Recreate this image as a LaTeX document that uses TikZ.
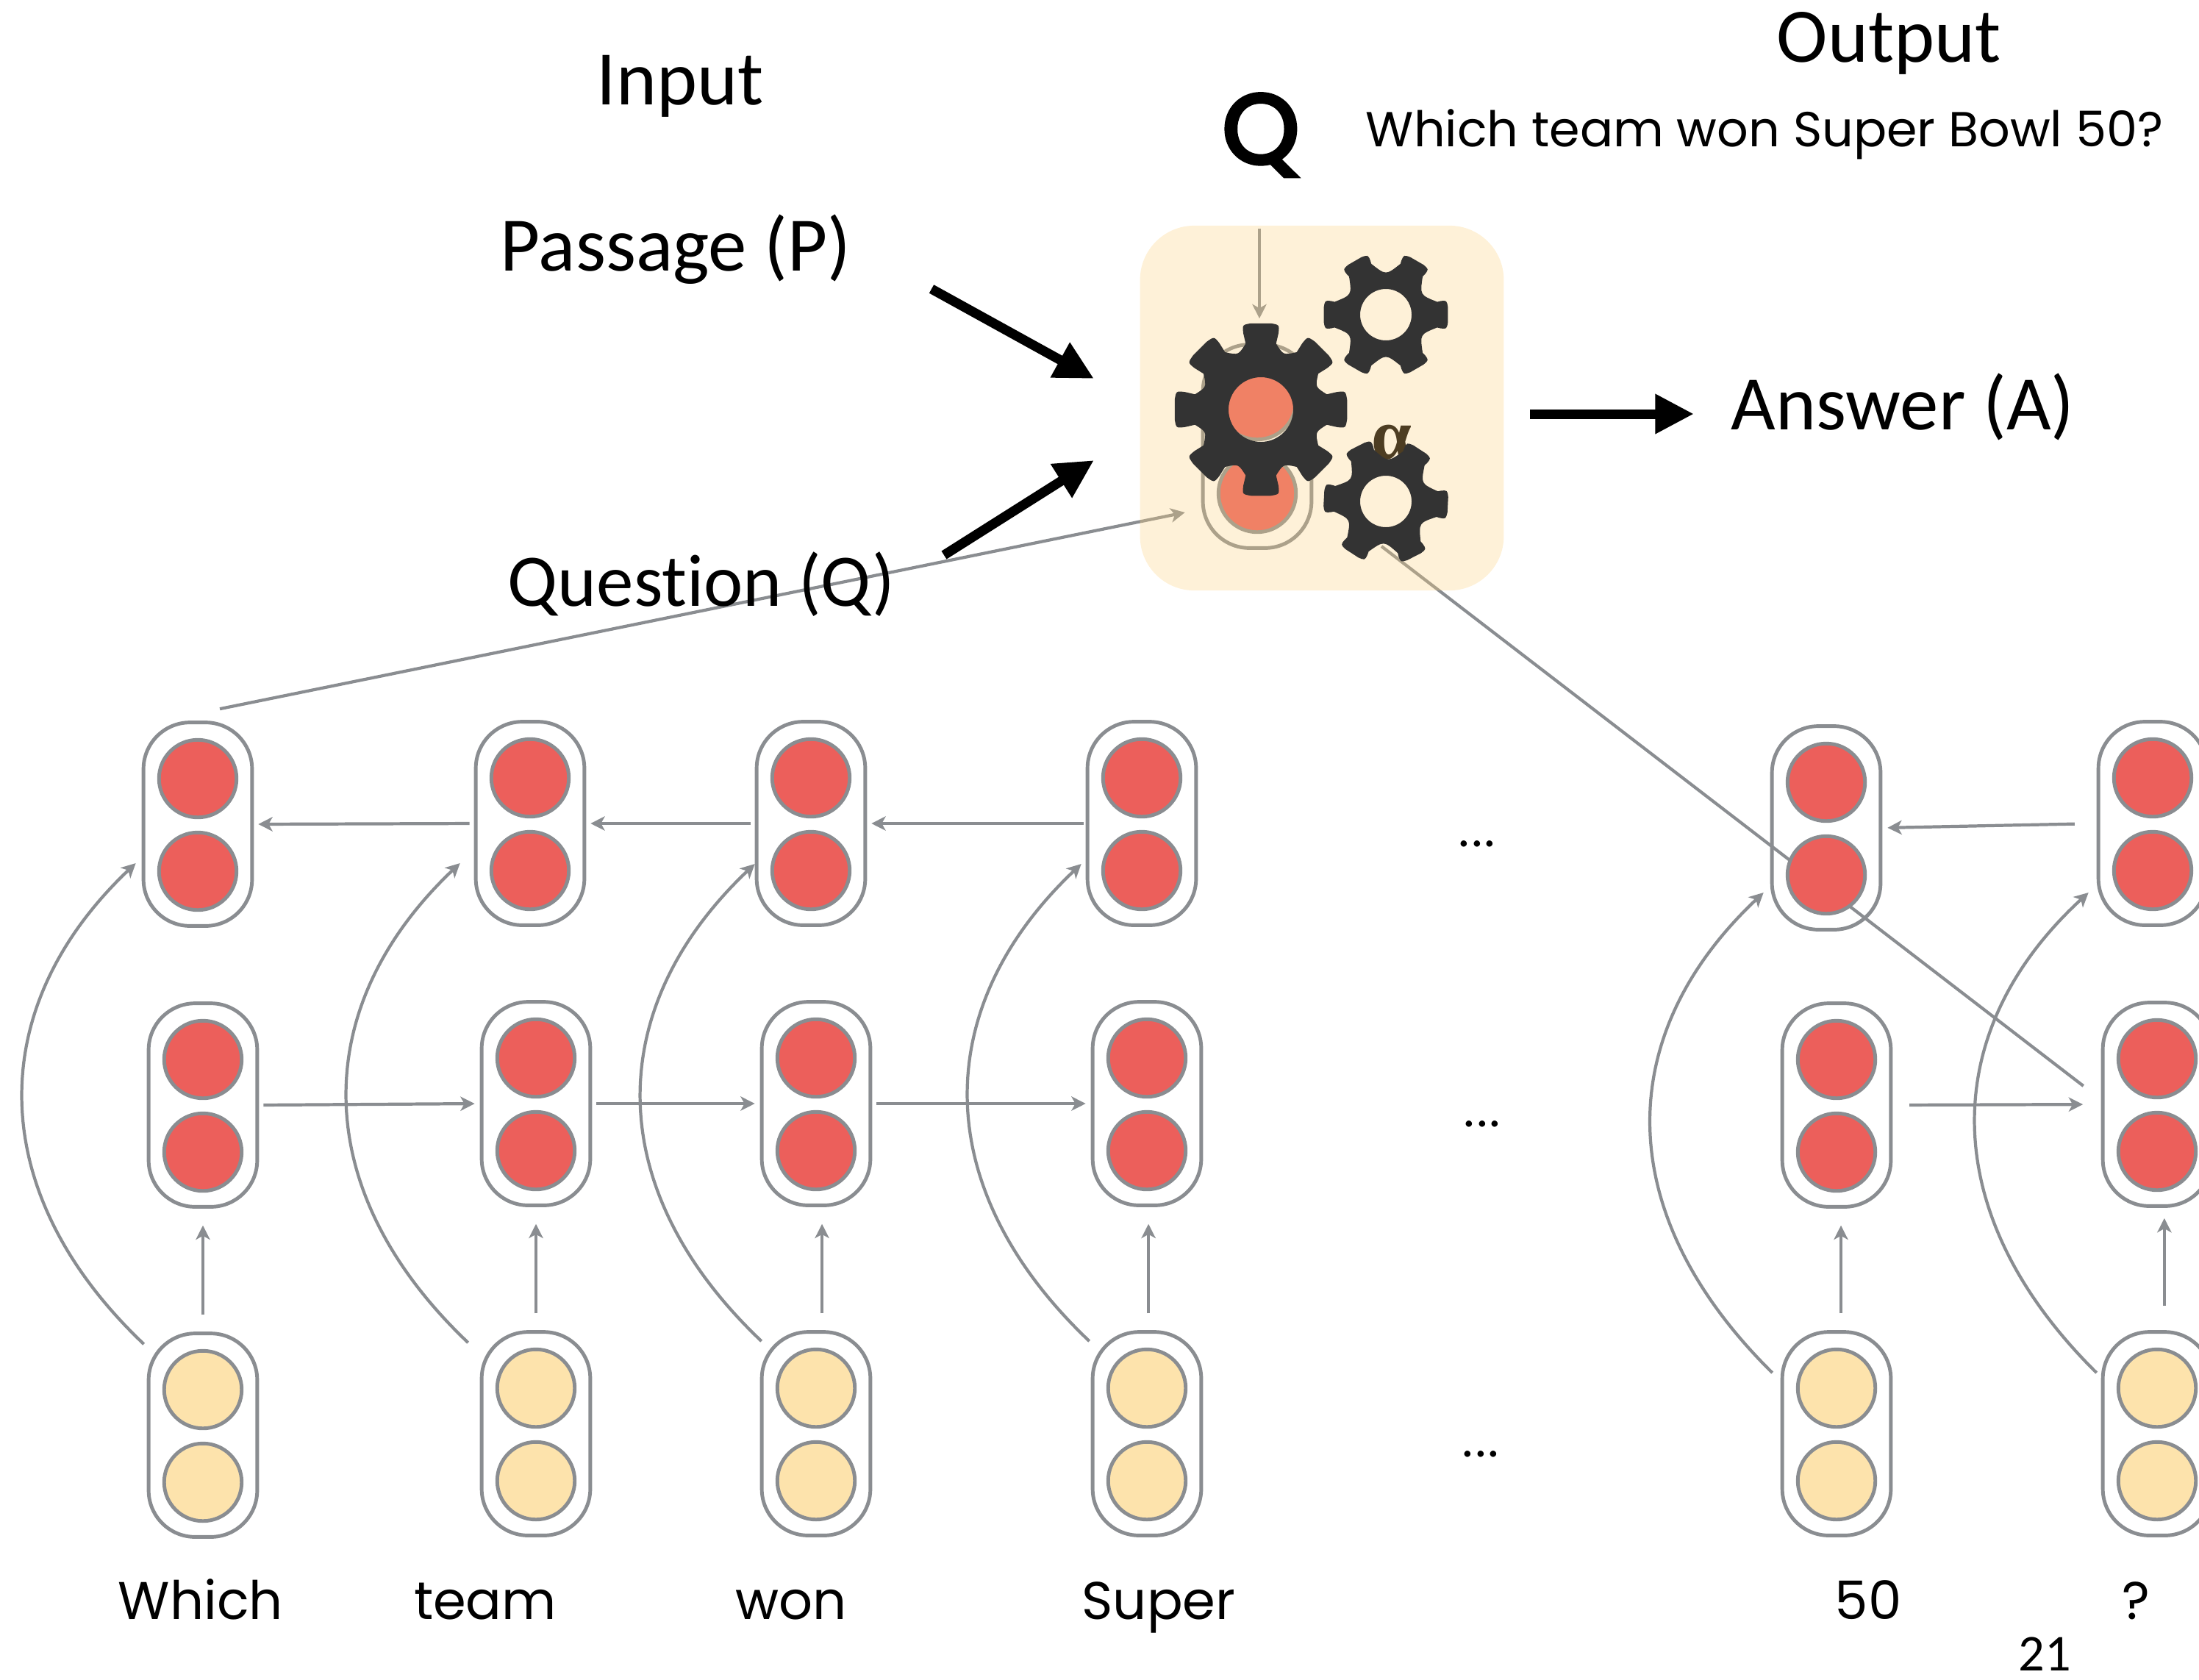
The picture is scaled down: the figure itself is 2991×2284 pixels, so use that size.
\documentclass[tikz,border=0pt]{standalone}
\usepackage{fontspec}
\setmainfont[Ligatures=NoCommon]{Carlito}
\newfontfamily\gothic{Poppins}
\newfontfamily\gothicq[FakeBold=4]{Poppins}
\newfontfamily\alphafont{Liberation Serif}
\usetikzlibrary{arrows.meta}
\definecolor{gry}{HTML}{8A8D91}
\definecolor{redc}{HTML}{EC5F5B}
\definecolor{yelc}{HTML}{FDE3AC}
\definecolor{corec}{RGB}{252,208,125}
\definecolor{gearc}{HTML}{333333}
\definecolor{alphac}{HTML}{4D3D22}
\pgfdeclarelayer{under}
\pgfsetlayers{under,main}
\tikzset{
  capsule/.style={draw=gry,line width=1.4pt,rounded corners=18pt,minimum width=42pt,minimum height=78.7pt,inner sep=0pt},
  disc/.style={circle,draw=gry,line width=1.4pt,minimum size=30pt,inner sep=0pt},
  garrow/.style={draw=gry,line width=1.2pt,-{Stealth[length=5.5pt,width=5.5pt,inset=1.5pt]}},
  gline/.style={draw=gry,line width=1.2pt},
  barrow/.style={draw=black,line width=3.7pt,-{Triangle[length=15pt,width=14.5pt]}},
  bigtxt/.style={font=\fontsize{29.8}{32}\selectfont,anchor=base,inner sep=0pt},
  wordtxt/.style={font=\gothic\fontsize{20.5}{24}\selectfont,anchor=base,inner sep=0pt},
  sentxt/.style={font=\gothic\fontsize{19}{22}\selectfont,anchor=base,inner sep=0pt},
  dotstxt/.style={font=\fontsize{20}{24}\selectfont,anchor=base,inner sep=0pt},
}
\newcommand\cellnode[4]{%
  \node[capsule] (#1) at (#2,#3) {};
  \path (#2,#3) +(0,-62) node[disc,fill=#4] (#1u) {} +(0,64) node[disc,fill=#4] (#1l) {};
}
\newcommand\gearshape[9]{%
  \fill[gearc,even odd rule,shift={(#1,#2)}] ({#3-#5}:#7)
  \foreach \i [evaluate=\i as \A using #3+(\i-1)*360/#4] in {1,...,#4}{
    -- ({\A-#5}:{#6*.9}) .. controls ({\A-#5*.95}:#6) .. ({\A-#5*.5}:#6)
    -- ({\A+#5*.5}:#6) .. controls ({\A+#5*.95}:#6) .. ({\A+#5}:{#6*.9})
    -- ({\A+#5}:#7) .. controls ({\A+180/#4}:#8) .. ({\A+360/#4-#5}:#7)
  } -- cycle (0,0) circle[radius=#9];
}
\newcommand\skipcurve[8]{%
  \draw[garrow] ([shift={(#3,#4)}]#1.north west) .. controls +(-218,-#7) and +(-207,#8) .. ([shift={(#5,#6)}]#2.west);
}
\begin{document}
\begin{tikzpicture}[x=0.01cm,y=-0.01cm]
\useasboundingbox (0,0) rectangle (2991,2284);
% cells
\cellnode{t1}{269}{1121}{redc}
\cellnode{t2}{721}{1120}{redc}
\cellnode{t3}{1103}{1120}{redc}
\cellnode{t4}{1553}{1120}{redc}
\cellnode{t5}{2484}{1126}{redc}
\cellnode{t6}{2928}{1120}{redc}
\cellnode{m1}{276}{1503}{redc}
\cellnode{m2}{729}{1501}{redc}
\cellnode{m3}{1110}{1501}{redc}
\cellnode{m4}{1560}{1501}{redc}
\cellnode{m5}{2498}{1503}{redc}
\cellnode{m6}{2934}{1502}{redc}
\cellnode{b1}{276}{1952}{yelc}
\cellnode{b2}{729}{1950}{yelc}
\cellnode{b3}{1110}{1950}{yelc}
\cellnode{b4}{1560}{1950}{yelc}
\cellnode{b5}{2498}{1950}{yelc}
\cellnode{b6}{2934}{1950}{yelc}
% inner capsule seen through the core box
\cellnode{q}{1710}{607}{redc}
\coordinate (g1) at (1715,557);
\coordinate (g2) at (1885,428);
\coordinate (g3) at (1885,682);
\begin{pgfonlayer}{under}
  \draw[garrow,shorten <=1.7pt,shorten >=1.7pt] (t2.west) -- (t1.east);
  \draw[garrow,shorten <=1.7pt,shorten >=1.7pt] (t3.west) -- (t2.east);
  \draw[garrow,shorten <=0.8pt,shorten >=1.7pt] (t4.west) -- (t3.east);
  \draw[garrow,shorten <=8.5pt,shorten >=2pt] (t6.west) -- (t5.east);
  \draw[garrow,shorten <=1.7pt,shorten >=2pt] (m1.east) -- (m2.west);
  \draw[garrow,shorten <=1.7pt,shorten >=2pt] (m2.east) -- (m3.west);
  \draw[garrow,shorten <=1.7pt,shorten >=2pt] (m3.east) -- (m4.west);
  \draw[garrow,shorten <=6.5pt,shorten >=7pt] (m5.east) -- (m6.west);
  \draw[garrow,shorten <=6.5pt,shorten >=6.5pt] (b1.north) -- (m1.south);
  \draw[garrow,shorten <=6.5pt,shorten >=6.5pt] (b2.north) -- (m2.south);
  \draw[garrow,shorten <=6.5pt,shorten >=6.5pt] ([xshift=2.3pt]b3.north) -- ([xshift=2.3pt]m3.south);
  \draw[garrow,shorten <=6.5pt,shorten >=6.5pt] ([xshift=.6pt]b4.north) -- ([xshift=.6pt]m4.south);
  \draw[garrow,shorten <=6.5pt,shorten >=6.5pt] ([xshift=1.7pt]b5.north) -- ([xshift=1.7pt]m5.south);
  \draw[garrow,shorten <=9.4pt,shorten >=4pt] ([xshift=2.8pt]b6.north) -- ([xshift=2.8pt]m6.south);
  \skipcurve{b1}{t1}{-4}{17}{-8}{53}{207}{196}
  \skipcurve{b2}{t2}{-16}{17}{-19}{54}{207}{196}
  \skipcurve{b3}{t3}{2}{15}{0}{55}{207}{196}
  \skipcurve{b4}{t4}{-2}{15}{-6}{55}{207}{196}
  \skipcurve{b5}{t5}{-11}{58}{-9}{88}{215}{195}
  \skipcurve{b6}{t6}{-6}{58}{-11}{94}{215}{190}
  \draw[garrow] ([shift={(30,-16)}]t1.north) -- ([shift={(-22,90)}]q.west);
  \draw[gline] ([shift={(-6,61)}]g3) -- ([shift={(-24,-25)}]m6.west);
  \draw[garrow] ([shift={(3,-155)}]q.north) -- ([shift={(3,-33)}]q.north);
\end{pgfonlayer}
% core box, translucent over what lies under it
\node[fill=corec,fill opacity=.3,rounded corners=21pt,minimum width=140.7pt,minimum height=141.1pt,inner sep=0pt] (core) at (1798,555) {};
\node[font=\alphafont\bfseries\fontsize{28}{30}\selectfont,text=alphac,inner sep=0pt] (alpha) at (1893,602) {α};
\gearshape{1715}{557}{0}{8}{13}{118}{92}{80}{44}
\gearshape{1885}{428}{0}{6}{14}{85}{72}{53.5}{35}
\gearshape{1885}{682}{3}{6}{14}{85}{72}{53.5}{35}
% text
\node[bigtxt] (input) at (925,142) {Input};
\node[bigtxt] (output) at (2569,84) {Output};
\node[bigtxt] (passage) at (919,368) {Passage (P)};
\node[bigtxt,font=\fontsize{28.7}{32}\selectfont] (question) at (954,824) {Question (Q)};
\node[bigtxt] (answer) at (2588,584) {Answer (A)};
\node[font=\gothicq\fontsize{38}{40}\selectfont,anchor=base,inner sep=0pt] (qmark) at (1715,222) {Q};
\node[sentxt] (sentence) at (2400,199) {Which team won Super Bowl 50?};
\coordinate (pa) at (1267,393);
\coordinate (pb) at (1488,515);
\coordinate (qa) at (1284,755);
\coordinate (qb) at (1488,626);
\coordinate (aa) at (2081,563);
\coordinate (ab) at (2304,563);
\draw[barrow] (pa) -- (pb);
\draw[barrow] (qa) -- (qb);
\draw[barrow] (aa) -- (ab);
\node[dotstxt] (d1) at (2009,1151) {...};
\node[dotstxt] (d2) at (2016,1532) {...};
\node[dotstxt] (d3) at (2014,1981) {...};
\node[wordtxt] (w1) at (273,2202) {Which};
\node[wordtxt] (w2) at (660,2202) {team};
\node[wordtxt] (w3) at (1076,2202) {won};
\node[wordtxt] (w4) at (1576,2202) {Super};
\node[wordtxt] (w5) at (2541,2202) {50};
\node[wordtxt] (w6) at (2905,2202) {?};
\node[font=\fontsize{20}{22}\selectfont,anchor=base,inner sep=0pt] (pg) at (2781,2272) {21};
\end{tikzpicture}
\end{document}
